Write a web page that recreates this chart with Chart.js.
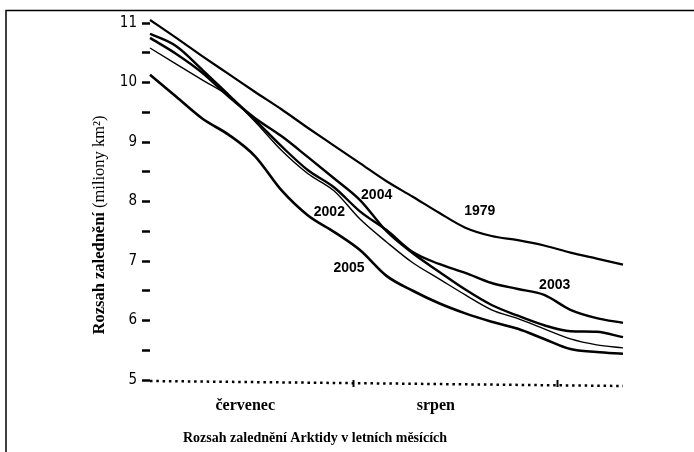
<!DOCTYPE html>
<html>
<head>
<meta charset="utf-8">
<script src="https://cdn.jsdelivr.net/npm/chart.js@4"></script>
<style>
  html, body { margin: 0; padding: 0; background: #fff; }
</style>
</head>
<body>
<canvas id="chart" width="694" height="452"></canvas>
<script>
// days counted from 1 July
const days = [0, 4, 8, 12, 16, 20, 24, 28, 32, 36, 40, 44, 48, 52, 56, 60, 64, 68, 72];

// extent of sea ice, millions km2
const ext1979 = [11.05, 10.75, 10.44, 10.14, 9.84, 9.55, 9.24, 8.94, 8.64, 8.34, 8.08, 7.81, 7.56, 7.42, 7.35, 7.26, 7.14, 7.04, 6.94];
const ext2002 = [10.58, 10.31, 10.04, 9.77, 9.34, 8.86, 8.47, 8.18, 7.70, 7.32, 6.97, 6.70, 6.43, 6.18, 6.03, 5.86, 5.69, 5.59, 5.54];
const ext2003 = [10.82, 10.61, 10.21, 9.79, 9.37, 8.93, 8.53, 8.24, 7.83, 7.52, 7.15, 6.95, 6.80, 6.63, 6.53, 6.43, 6.18, 6.04, 5.96];
const ext2004 = [10.75, 10.48, 10.16, 9.76, 9.40, 9.10, 8.75, 8.39, 8.02, 7.50, 7.13, 6.82, 6.52, 6.26, 6.08, 5.92, 5.82, 5.81, 5.72];
const ext2005 = [10.13, 9.76, 9.39, 9.12, 8.76, 8.19, 7.77, 7.49, 7.18, 6.75, 6.50, 6.29, 6.12, 5.98, 5.86, 5.69, 5.52, 5.47, 5.44];

// year labels written next to the curves (day, value)
const yearNames = ['1979', '2004', '2002', '2005', '2003'];
const yearLabelDay = [50.2, 34.5, 27.3, 30.3, 61.6];
const yearLabelVal = [7.84, 8.11, 7.82, 6.88, 6.59];

// months on the x axis
const monthNames = ['červenec', 'srpen'];
const monthMid = [14.5, 43.5];
const monthEnd = [31, 62];

const yTickValues = [5, 5.5, 6, 6.5, 7, 7.5, 8, 8.5, 9, 9.5, 10, 10.5, 11];

const yTitleBold = 'Rozsah zalednění';
const yTitleNormal = ' (miliony km²)';
const bottomTitle = 'Rozsah zalednění Arktidy v letních měsících';

const toPoints = vals => vals.map((v, i) => ({ x: days[i], y: v }));

function line(vals, width) {
  return {
    data: toPoints(vals),
    borderColor: '#000',
    borderWidth: width,
    pointRadius: 0,
    fill: false,
    cubicInterpolationMode: 'monotone',
    clip: false
  };
}

const serif = "'Liberation Serif', 'Times New Roman', serif";

// frame, dotted baseline, axis titles and year labels
const decor = {
  id: 'decor',
  beforeDatasetsDraw(chart) {
    const ctx = chart.ctx;
    const xs = chart.scales.x, ys = chart.scales.y;
    ctx.save();
    ctx.strokeStyle = '#000';
    ctx.lineWidth = 2.5;
    ctx.setLineDash([2.5, 3.8]);
    ctx.beginPath();
    ctx.moveTo(xs.getPixelForValue(0), ys.getPixelForValue(5) + 1);
    ctx.lineTo(xs.getPixelForValue(72), ys.getPixelForValue(5) + 6);
    ctx.stroke();
    ctx.restore();
  },
  afterDraw(chart) {
    const ctx = chart.ctx;
    const xs = chart.scales.x, ys = chart.scales.y;
    ctx.save();
    ctx.strokeStyle = '#000';
    ctx.lineWidth = 1.5;
    ctx.beginPath();
    ctx.moveTo(6, 452);
    ctx.lineTo(6, 10.5);
    ctx.lineTo(694, 10.5);
    ctx.stroke();

    // year labels
    ctx.fillStyle = '#000';
    ctx.font = "bold 14px 'Liberation Sans', Arial, sans-serif";
    ctx.textAlign = 'center';
    ctx.textBaseline = 'middle';
    yearNames.forEach((name, i) => {
      ctx.fillText(name, xs.getPixelForValue(yearLabelDay[i]), ys.getPixelForValue(yearLabelVal[i]));
    });

    // bottom title
    ctx.font = 'bold 14px ' + serif;
    ctx.textAlign = 'left';
    ctx.fillText(bottomTitle, 183, 438);

    // y title, rotated
    ctx.translate(100, 225);
    ctx.rotate(-Math.PI / 2);
    ctx.font = 'bold 16.5px ' + serif;
    const w1 = ctx.measureText(yTitleBold).width;
    ctx.font = '16.5px ' + serif;
    const w2 = ctx.measureText(yTitleNormal).width;
    const start = -(w1 + w2) / 2;
    ctx.font = 'bold 16.5px ' + serif;
    ctx.fillText(yTitleBold, start, 0);
    ctx.font = '16.5px ' + serif;
    ctx.fillText(yTitleNormal, start + w1, 0);
    ctx.restore();
  }
};

new Chart(document.getElementById('chart'), {
  type: 'line',
  data: {
    datasets: [
      line(ext1979, 2.2),
      line(ext2002, 1.4),
      line(ext2003, 2.4),
      line(ext2004, 2.4),
      line(ext2005, 2.6)
    ]
  },
  options: {
    responsive: false,
    animation: false,
    devicePixelRatio: 1,
    layout: { padding: { left: 0, top: 23, right: 71, bottom: 0 } },
    plugins: { legend: { display: false }, tooltip: { enabled: false }, title: { display: false } },
    scales: {
      x: {
        type: 'linear',
        min: 0,
        max: 72,
        afterBuildTicks: s => {
          s.ticks = monthMid.concat(monthEnd).sort((a, b) => a - b).map(v => ({ value: v }));
        },
        afterFit: s => { s.height = 72; },
        border: { display: false },
        grid: {
          drawOnChartArea: false,
          tickLength: 7,
          tickWidth: 2,
          tickColor: c => (c.tick && monthEnd.includes(c.tick.value)) ? '#000' : 'rgba(0,0,0,0)'
        },
        ticks: {
          autoSkip: false,
          maxRotation: 0,
          padding: 9,
          color: '#000',
          font: { family: serif, size: 16, weight: 'bold' },
          callback: v => {
            const i = monthMid.indexOf(v);
            return i >= 0 ? monthNames[i] : '';
          }
        }
      },
      y: {
        min: 5,
        max: 11,
        afterBuildTicks: s => { s.ticks = yTickValues.map(v => ({ value: v })); },
        afterFit: s => { s.width = 150; },
        border: { display: false },
        grid: { drawOnChartArea: false, tickLength: 8, tickWidth: 2.5, tickColor: '#000' },
        ticks: {
          autoSkip: false,
          padding: 5,
          color: '#000',
          font: { family: "'Liberation Sans Narrow', 'DejaVu Sans Condensed', sans-serif", size: 15 },
          callback: v => Number.isInteger(v) ? String(v) : ''
        }
      }
    }
  },
  plugins: [decor]
});
</script>
</body>
</html>
